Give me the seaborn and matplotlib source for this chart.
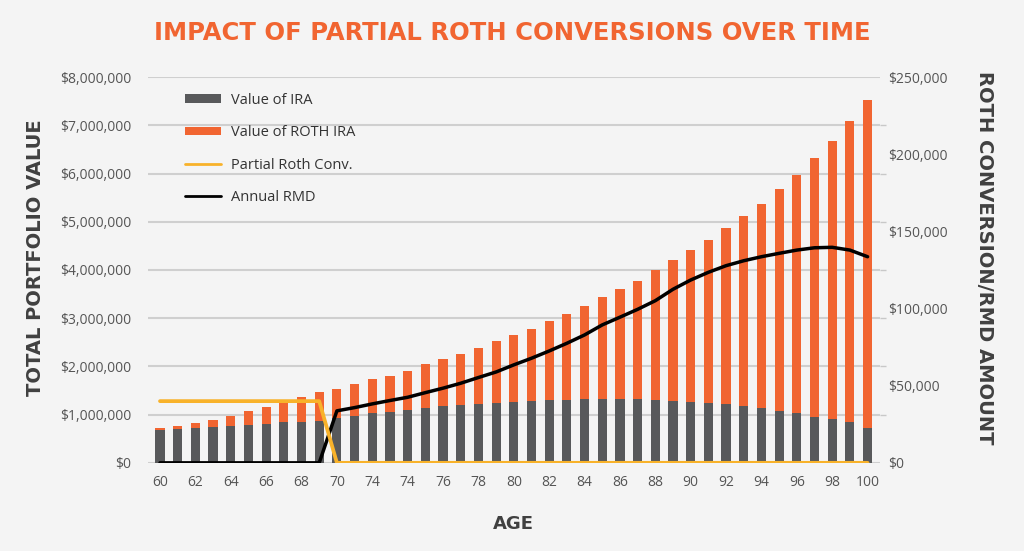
import numpy as np
import pandas as pd
import matplotlib
matplotlib.use("Agg")
import matplotlib.pyplot as plt
import seaborn as sns
from matplotlib.patches import Patch
from matplotlib.lines import Line2D
from matplotlib.ticker import FuncFormatter

# ---------------- data ----------------
ages = list(range(60, 101))
total_value = [0.72, 0.77, 0.82, 0.89, 0.98, 1.07, 1.15, 1.28, 1.36, 1.47,
               1.54, 1.63, 1.73, 1.80, 1.91, 2.04, 2.15, 2.25, 2.39, 2.53,
               2.65, 2.78, 2.94, 3.09, 3.25, 3.43, 3.60, 3.78, 4.00, 4.20,
               4.41, 4.62, 4.87, 5.12, 5.37, 5.67, 5.98, 6.32, 6.68, 7.08, 7.52]
ira_value = [0.68, 0.71, 0.73, 0.75, 0.77, 0.79, 0.81, 0.84, 0.85, 0.87,
             0.94, 0.98, 1.03, 1.06, 1.10, 1.14, 1.17, 1.20, 1.23, 1.25,
             1.27, 1.28, 1.30, 1.31, 1.32, 1.32, 1.32, 1.32, 1.30, 1.28,
             1.27, 1.25, 1.22, 1.17, 1.13, 1.08, 1.04, 0.96, 0.90, 0.84, 0.72]
roth_conv = [40000] * 10 + [0] * 31
annual_rmd = [0] * 10 + [33700, 35800, 38200, 40400, 42500, 45500, 48400, 51600,
                         55300, 58900, 63500, 67800, 72500, 77500, 82900, 89400,
                         94400, 99500, 105100, 112500, 118500, 123500, 127800,
                         131000, 133600, 135800, 137900, 139400, 139700, 137900,
                         133600]
xtick_labels = ["60", "62", "64", "66", "68", "70", "74", "74", "76", "78", "80",
                "82", "84", "86", "88", "90", "92", "94", "96", "98", "100"]

df = pd.DataFrame({
    "age": ages,
    "total": np.array(total_value) * 1e6,
    "ira": np.array(ira_value) * 1e6,
    "conv": roth_conv,
    "rmd": annual_rmd,
})
df["pos"] = np.arange(len(df))

# ---------------- style ----------------
BG = "#F4F4F4"
ORANGE = "#F16531"
GRAY = "#58595B"
YELLOW = "#F8B22A"
TXT = "#555555"
DARK = "#404040"

sns.set_style("white")
plt.rcParams["font.family"] = ["Open Sans", "DejaVu Sans"]

fig = plt.figure(figsize=(10.24, 5.51), dpi=100, facecolor=BG)
ax = fig.add_axes([0.1445, 0.16, 0.7145, 0.70])
ax.set_facecolor(BG)

sns.barplot(data=df, x="age", y="total", color=ORANGE, width=0.52,
            saturation=1, linewidth=0, edgecolor="none", ax=ax, zorder=2)
sns.barplot(data=df, x="age", y="ira", color=GRAY, width=0.52,
            saturation=1, linewidth=0, edgecolor="none", ax=ax, zorder=3)

ax.set_xlim(-0.68, 40.68)
ax.set_ylim(0, 8e6)
ax.set_yticks(np.arange(0, 8.01e6, 1e6))
ax.yaxis.set_major_formatter(FuncFormatter(lambda v, p: f"${v:,.0f}"))
ax.set_xticks(np.arange(0, 41, 2))
ax.set_xticklabels(xtick_labels)
ax.grid(axis="y", color="#CFCFCF", linewidth=1.5, zorder=0)
ax.set_axisbelow(True)
for s in ax.spines.values():
    s.set_visible(False)
ax.tick_params(axis="both", length=0, labelsize=10, labelcolor=TXT)
ax.tick_params(axis="y", pad=12)
ax.tick_params(axis="x", pad=9)
ax.set_xlabel("AGE", fontsize=13, fontweight="bold", color=DARK, labelpad=18,
              family=["DejaVu Sans"])
ax.set_ylabel("TOTAL PORTFOLIO VALUE", fontsize=14, fontweight="bold",
              color=DARK, family=["DejaVu Sans"], va="center")
ax.yaxis.set_label_coords(-0.154, 0.531)

# right axis
ax2 = ax.twinx()
sns.lineplot(data=df, x="pos", y="rmd", color="black", linewidth=2.5, ax=ax2,
             zorder=4)
sns.lineplot(data=df, x="pos", y="conv", color=YELLOW, linewidth=2.7, ax=ax2,
             zorder=5)
ax2.set_xlim(-0.68, 40.68)
ax2.set_ylim(0, 250000)
ax2.set_yticks(np.arange(0, 250001, 50000))
ax2.set_yticks(np.arange(0, 250001, 31250), minor=True)
ax2.yaxis.set_major_formatter(FuncFormatter(lambda v, p: f"${v:,.0f}"))
ax2.tick_params(axis="y", which="major", length=0, labelsize=10,
                labelcolor=TXT, pad=6)
ax2.tick_params(axis="y", which="minor", length=4, color="#C8C8C8", width=1)
for s in ax2.spines.values():
    s.set_visible(False)
ax2.set_xlabel("")
ax2.set_ylabel("ROTH CONVERSION/RMD AMOUNT", fontsize=14, fontweight="bold",
               color=DARK, rotation=-90, family=["DejaVu Sans"], va="center")
ax2.yaxis.set_label_coords(1.144, 0.531)

handles = [
    Patch(facecolor=GRAY, edgecolor="none"),
    Patch(facecolor=ORANGE, edgecolor="none"),
    Line2D([0], [0], color=YELLOW, linewidth=2),
    Line2D([0], [0], color="black", linewidth=2),
]
labels = ["Value of IRA", "Value of ROTH IRA", "Partial Roth Conv.", "Annual RMD"]
leg = ax2.legend(handles, labels, loc="upper left", bbox_to_anchor=(0.05, 0.96),
                 frameon=False, fontsize=10.5, handlelength=2.5,
                 handleheight=0.55, labelspacing=1.2, handletextpad=0.7,
                 borderpad=0, borderaxespad=0)
for t in leg.get_texts():
    t.set_color("#333333")

fig.text(0.5, 0.94, "IMPACT OF PARTIAL ROTH CONVERSIONS OVER TIME",
         ha="center", va="center", fontsize=17.5, fontweight="bold",
         color=ORANGE, family=["DejaVu Sans"])

fig.savefig("out.png", dpi=100, facecolor=BG)
